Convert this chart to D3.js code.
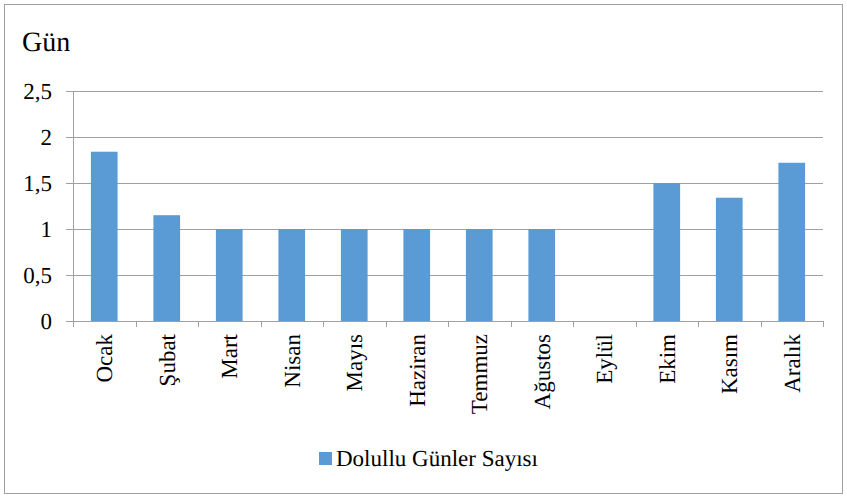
<!DOCTYPE html>
<html><head><meta charset="utf-8">
<script src="https://cdn.jsdelivr.net/npm/d3@7"></script>
<style>body{margin:0;background:#fff}svg{display:block}</style>
</head><body>
<script>
const categories = ["Ocak","Şubat","Mart","Nisan","Mayıs","Haziran","Temmuz","Ağustos","Eylül","Ekim","Kasım","Aralık"];
const values = [1.84,1.15,1,1,1,1,1,1,0,1.5,1.34,1.72];
const yTicks = [0,0.5,1,1.5,2,2.5];
const yTickLabels = ["0","0,5","1","1,5","2","2,5"];
const seriesName = "Dolullu Günler Sayısı";
const yTitle = "Gün";

const W=847,H=497;
const FONT="Liberation Serif";
const svg=d3.select("body").append("svg").attr("width",W).attr("height",H)
  .attr("text-rendering","geometricPrecision");
svg.append("rect").attr("x",4.5).attr("y",4.5).attr("width",838).attr("height",489).attr("fill","#fff").attr("stroke","#a0a0a0").attr("stroke-width",1);

const x=d3.scaleBand().domain(categories).range([73,823]).paddingInner(0.573).paddingOuter(0.2865);
const xb=d3.scaleBand().domain(categories).range([73,823]);
const y=d3.scaleLinear().domain([0,2.5]).range([321,91]);
const grid="#a0a0a0";

svg.append("g").selectAll("line").data(yTicks).join("line")
 .attr("x1",66).attr("x2",823).attr("y1",d=>Math.round(y(d))+0.5).attr("y2",d=>Math.round(y(d))+0.5)
 .attr("stroke",grid).attr("stroke-width",1);
svg.append("line").attr("x1",73.5).attr("x2",73.5).attr("y1",91).attr("y2",327).attr("stroke",grid);
svg.append("g").selectAll("text").data(yTicks).join("text")
 .attr("transform",d=>`translate(52,${y(d)}) rotate(0.01)`)
 .attr("dy","0.35em").attr("text-anchor","end").attr("font-size",23)
 .attr("font-family",FONT).attr("fill","#000")
 .text((d,i)=>yTickLabels[i]);
svg.append("g").selectAll("rect").data(values).join("rect")
 .attr("x",(d,i)=>x(categories[i])).attr("width",x.bandwidth())
 .attr("y",d=>y(d)).attr("height",d=>y(0)-y(d)).attr("fill","#5b9bd5");
const bounds=categories.map(c=>xb(c)).concat([823]);
svg.append("g").selectAll("line").data(bounds).join("line")
 .attr("x1",d=>Math.round(d)+0.5).attr("x2",d=>Math.round(d)+0.5).attr("y1",321).attr("y2",327).attr("stroke",grid);
svg.append("g").selectAll("text").data(categories).join("text")
 .attr("transform",c=>`translate(${xb(c)+xb.bandwidth()/2},334) rotate(-90)`)
 .attr("dy","0.35em").attr("text-anchor","end").attr("font-size",23).attr("font-family",FONT).attr("fill","#000").text(c=>c);
svg.append("text").attr("transform","translate(22,51) rotate(0.01)").attr("font-size",28).attr("font-family",FONT).attr("fill","#000").text(yTitle);
svg.append("rect").attr("x",319).attr("y",452).attr("width",13).attr("height",13).attr("fill","#5b9bd5");
svg.append("text").attr("transform","translate(336,466) rotate(0.01)").attr("font-size",23).attr("font-family",FONT).attr("fill","#000").text(seriesName);
</script>
</body></html>
